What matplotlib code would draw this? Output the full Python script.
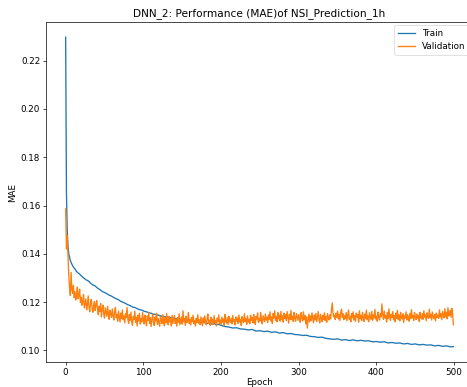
import matplotlib
matplotlib.use("Agg")
import matplotlib.pyplot as plt

# training MAE, read at selected epochs
train_epochs = [0, 1, 2, 3, 4, 5, 6, 7, 8, 9, 10, 12, 14, 16, 18, 20, 23, 26, 29, 32,
                35, 38, 41, 44, 47, 50, 53, 56, 59, 62, 65, 68, 71, 74, 77, 80, 83, 86, 89, 92,
                95, 98, 101, 104, 107, 110, 113, 116, 119, 122, 125, 128, 131, 134, 137, 140, 143, 146, 149, 152,
                155, 158, 161, 164, 167, 170, 173, 176, 179, 182, 185, 188, 191, 194, 197,
                200, 205, 210, 215, 220, 225, 230, 235, 240, 245, 250, 255, 260, 265, 270, 275, 280, 285, 290, 295,
                300, 305, 310, 315, 320, 325, 330, 335, 340, 345, 350, 355, 360, 365, 370, 375, 380, 385, 390, 395,
                400, 405, 410, 415, 420, 425, 430, 435, 440, 445, 450, 455, 460, 465, 470, 475, 480, 485, 490, 495, 499]
train_mae = [0.2297, 0.1650, 0.1500, 0.1430, 0.1400, 0.1385, 0.1372, 0.1364, 0.1357, 0.1351,
             0.1345, 0.1337, 0.1327, 0.1321, 0.1316, 0.1309, 0.1301, 0.1293, 0.1288, 0.1279,
             0.1271, 0.1267, 0.1258, 0.1252, 0.1244, 0.1240, 0.1235, 0.1229, 0.1225, 0.1219,
             0.1214, 0.1210, 0.1203, 0.1199, 0.1195, 0.1189, 0.1186, 0.1180, 0.1178, 0.1173,
             0.1169, 0.1167, 0.1162, 0.1160, 0.1156, 0.1154, 0.1150, 0.1149, 0.1146, 0.1144,
             0.1141, 0.1139, 0.1138, 0.1135, 0.1136, 0.1132, 0.1131, 0.1128, 0.1129, 0.1125,
             0.1126, 0.1123, 0.1124, 0.1120, 0.1121, 0.1117, 0.1119, 0.1115, 0.1116, 0.1112,
             0.1113, 0.1109, 0.1111, 0.1107, 0.1108,
             0.1104, 0.1099, 0.1097, 0.1093, 0.1094, 0.1089, 0.1088, 0.1085, 0.1087, 0.1080,
             0.1082, 0.1078, 0.1080, 0.1075, 0.1077, 0.1072, 0.1074, 0.1069, 0.1070, 0.1066,
             0.1065, 0.1062, 0.1063, 0.1058, 0.1057, 0.1054, 0.1055, 0.1050, 0.1048, 0.1046,
             0.1048, 0.1043, 0.1045, 0.1041, 0.1044, 0.1040, 0.1042, 0.1039, 0.1040, 0.1036,
             0.1037, 0.1034, 0.1036, 0.1031, 0.1033, 0.1030, 0.1031, 0.1027, 0.1029, 0.1025,
             0.1027, 0.1023, 0.1025, 0.1022, 0.1023, 0.1019, 0.1021, 0.1017, 0.1019, 0.1015, 0.1016]

# validation MAE, one value per epoch (0..499)
val_mae = [
    0.1586, 0.1420, 0.1475, 0.1395, 0.1310, 0.1262, 0.1228, 0.1323, 0.1251, 0.1236, 0.1270, 0.1218, 0.1243, 0.1209, 0.1232, 0.1262, 0.1214, 0.1226, 0.1254, 0.1198,
    0.1221, 0.1187, 0.1205, 0.1232, 0.1176, 0.1194, 0.1214, 0.1168, 0.1189, 0.1226, 0.1181, 0.1160, 0.1197, 0.1212, 0.1174, 0.1158, 0.1185, 0.1203, 0.1165, 0.1190,
    0.1206, 0.1171, 0.1148, 0.1183, 0.1162, 0.1195, 0.1139, 0.1170, 0.1188, 0.1151, 0.1134, 0.1177, 0.1159, 0.1141, 0.1183, 0.1148, 0.1129, 0.1166, 0.1153, 0.1137,
    0.1172, 0.1144, 0.1126, 0.1161, 0.1178, 0.1135, 0.1149, 0.1121, 0.1163, 0.1140, 0.1118, 0.1155, 0.1132, 0.1168, 0.1127, 0.1143, 0.1114, 0.1152, 0.1136, 0.1178,
    0.1131, 0.1112, 0.1148, 0.1125, 0.1159, 0.1119, 0.1104, 0.1141, 0.1128, 0.1163, 0.1116, 0.1137, 0.1101, 0.1146, 0.1122, 0.1154, 0.1109, 0.1133, 0.1118, 0.1157,
    0.1128, 0.1110, 0.1146, 0.1121, 0.1102, 0.1143, 0.1125, 0.1157, 0.1112, 0.1135, 0.1099, 0.1131, 0.1150, 0.1116, 0.1103, 0.1139, 0.1122, 0.1154, 0.1108, 0.1133,
    0.1117, 0.1100, 0.1142, 0.1125, 0.1111, 0.1148, 0.1120, 0.1102, 0.1137, 0.1114, 0.1153, 0.1123, 0.1106, 0.1141, 0.1118, 0.1131, 0.1101, 0.1145, 0.1112, 0.1128,
    0.1145, 0.1111, 0.1128, 0.1100, 0.1136, 0.1117, 0.1152, 0.1106, 0.1123, 0.1139, 0.1109, 0.1164, 0.1118, 0.1131, 0.1103, 0.1142, 0.1115, 0.1126, 0.1157, 0.1112,
    0.1129, 0.1105, 0.1137, 0.1119, 0.1146, 0.1110, 0.1124, 0.1101, 0.1133, 0.1116, 0.1148, 0.1113, 0.1127, 0.1107, 0.1139, 0.1120, 0.1102, 0.1135, 0.1114, 0.1143,
    0.1118, 0.1106, 0.1132, 0.1151, 0.1112, 0.1125, 0.1104, 0.1138, 0.1117, 0.1129, 0.1108, 0.1144, 0.1115, 0.1123, 0.1101, 0.1134, 0.1119, 0.1147, 0.1111, 0.1126,
    0.1109, 0.1138, 0.1117, 0.1131, 0.1104, 0.1149, 0.1120, 0.1113, 0.1136, 0.1107, 0.1142, 0.1122, 0.1116, 0.1133, 0.1110, 0.1145, 0.1119, 0.1128, 0.1105, 0.1139,
    0.1121, 0.1134, 0.1112, 0.1147, 0.1118, 0.1127, 0.1103, 0.1140, 0.1124, 0.1115, 0.1152, 0.1120, 0.1131, 0.1108, 0.1143, 0.1117, 0.1129, 0.1111, 0.1146, 0.1123,
    0.1136, 0.1114, 0.1149, 0.1125, 0.1108, 0.1141, 0.1130, 0.1155, 0.1116, 0.1133, 0.1121, 0.1158, 0.1127, 0.1110, 0.1144, 0.1132, 0.1119, 0.1151, 0.1126, 0.1138,
    0.1115, 0.1147, 0.1129, 0.1160, 0.1122, 0.1139, 0.1112, 0.1153, 0.1134, 0.1164, 0.1125, 0.1141, 0.1118, 0.1157, 0.1131, 0.1146, 0.1121, 0.1162, 0.1128, 0.1143,
    0.1117, 0.1155, 0.1133, 0.1148, 0.1124, 0.1161, 0.1136, 0.1113, 0.1150, 0.1129, 0.1166, 0.1127, 0.1142, 0.1119, 0.1158, 0.1134, 0.1121, 0.1153, 0.1138, 0.1125,
    0.1149, 0.1131, 0.1116, 0.1157, 0.1137, 0.1122, 0.1160, 0.1128, 0.1145, 0.1110, 0.1139, 0.1093, 0.1127, 0.1151, 0.1118, 0.1143, 0.1124, 0.1156, 0.1132, 0.1115,
    0.1147, 0.1126, 0.1153, 0.1120, 0.1138, 0.1161, 0.1129, 0.1114, 0.1150, 0.1133, 0.1119, 0.1145, 0.1128, 0.1156, 0.1123, 0.1140, 0.1117, 0.1152, 0.1135, 0.1126,
    0.1148, 0.1131, 0.1162, 0.1197, 0.1158, 0.1139, 0.1146, 0.1128, 0.1155, 0.1137, 0.1163, 0.1130, 0.1149, 0.1124, 0.1159, 0.1171, 0.1136, 0.1152, 0.1127, 0.1144,
    0.1132, 0.1157, 0.1123, 0.1146, 0.1168, 0.1129, 0.1141, 0.1118, 0.1153, 0.1135, 0.1160, 0.1126, 0.1144, 0.1121, 0.1155, 0.1138, 0.1149, 0.1117, 0.1164, 0.1131,
    0.1145, 0.1124, 0.1158, 0.1136, 0.1120, 0.1151, 0.1133, 0.1167, 0.1127, 0.1143, 0.1119, 0.1156, 0.1138, 0.1129, 0.1162, 0.1125, 0.1147, 0.1134, 0.1170, 0.1130,
    0.1142, 0.1121, 0.1159, 0.1137, 0.1126, 0.1152, 0.1140, 0.1193, 0.1148, 0.1129, 0.1163, 0.1134, 0.1145, 0.1118, 0.1157, 0.1131, 0.1172, 0.1139, 0.1124, 0.1150,
    0.1136, 0.1161, 0.1127, 0.1144, 0.1119, 0.1155, 0.1133, 0.1166, 0.1128, 0.1147, 0.1122, 0.1158, 0.1139, 0.1130, 0.1152, 0.1116, 0.1143, 0.1134, 0.1160, 0.1126,
    0.1148, 0.1137, 0.1121, 0.1154, 0.1131, 0.1169, 0.1135, 0.1145, 0.1124, 0.1157, 0.1140, 0.1128, 0.1151, 0.1133, 0.1146, 0.1120, 0.1158, 0.1137, 0.1130, 0.1153,
    0.1129, 0.1164, 0.1138, 0.1147, 0.1123, 0.1156, 0.1141, 0.1132, 0.1171, 0.1136, 0.1150, 0.1126, 0.1159, 0.1140, 0.1131, 0.1148, 0.1122, 0.1155, 0.1137, 0.1146,
    0.1133, 0.1168, 0.1139, 0.1152, 0.1127, 0.1161, 0.1144, 0.1135, 0.1173, 0.1140, 0.1158, 0.1131, 0.1177, 0.1142, 0.1150, 0.1166, 0.1137, 0.1174, 0.1149, 0.1106,
]
val_epochs = list(range(len(val_mae)))

title = "DNN_2: Performance (MAE)of NSI_Prediction_1h"

fs = 6.3
plt.rcParams.update({
    "font.family": "DejaVu Sans",
    "font.size": fs,
    "axes.linewidth": 0.5,
    "xtick.major.width": 0.5,
    "ytick.major.width": 0.5,
    "xtick.major.size": 2.2,
    "ytick.major.size": 2.2,
    "xtick.major.pad": 1.6,
    "ytick.major.pad": 2.2,
})

fig = plt.figure(figsize=(4.67, 3.87), dpi=100)
# the original picture is cropped on the right, so the axes run past the edge
ax = fig.add_axes([0.0991, 0.0638, 0.9133, 0.8801])

ax.plot(train_epochs, train_mae, color="#1f77b4", linewidth=0.95, label="Train")
ax.plot(val_epochs, val_mae, color="#ff7f0e", linewidth=0.95, label="Validation")

ax.set_title(title, fontsize=7.6, pad=3.8)
ax.set_xlabel("Epoch", fontsize=fs, labelpad=0.8)
ax.set_ylabel("MAE", fontsize=fs, labelpad=2.5)
ax.set_xticks([0, 100, 200, 300, 400, 500])
ax.set_yticks([0.10, 0.12, 0.14, 0.16, 0.18, 0.20, 0.22])
ax.tick_params(labelsize=fs)

leg = ax.legend(loc="upper right", fontsize=fs, borderaxespad=0.4, handlelength=2.0)
leg.get_frame().set_linewidth(0.5)

fig.savefig("out.png", dpi=100)
